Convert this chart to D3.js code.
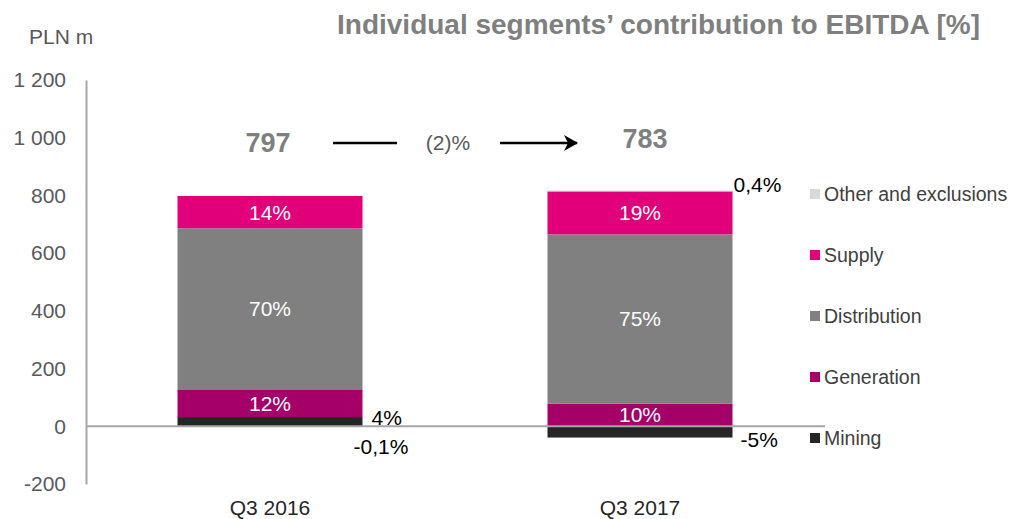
<!DOCTYPE html>
<html>
<head>
<meta charset="utf-8">
<script src="https://cdn.jsdelivr.net/npm/d3@7"></script>
<style>
  body { margin: 0; background: #fff; }
  text { font-family: "Liberation Sans", Arial, sans-serif; }
</style>
</head>
<body>
<div id="chart"></div>
<script>
(function () {

    // segment EBITDA, PLN m
    var categories = ['Q3 2016', 'Q3 2017'];
    var segments = ['Mining', 'Generation', 'Distribution', 'Supply', 'Other and exclusions'];

    var mining = [32, -39];
    var generation = [96, 78];
    var distribution = [558, 587];
    var supply = [112, 149];
    var other = [-1, 3];

    // share labels as printed on the chart
    var miningLabels = ['4%', '-5%'];
    var generationLabels = ['12%', '10%'];
    var distributionLabels = ['70%', '75%'];
    var supplyLabels = ['14%', '19%'];
    var otherLabels = ['-0,1%', '0,4%'];

    var totals = [797, 783];
    var changeLabel = '(2)%';

    var yTicks = [-200, 0, 200, 400, 600, 800, 1000, 1200];

    var colours = {
        'Mining': '#262626',
        'Generation': '#a50067',
        'Distribution': '#808080',
        'Supply': '#e2007a',
        'Other and exclusions': '#d9d9d9'
    };

    var width = 1010, height = 519;

    var svg = d3.select('#chart')
        .append('svg')
        .attr('width', width)
        .attr('height', height);

    var defs = svg.append('defs');
    defs.append('marker')
        .attr('id', 'arrow')
        .attr('viewBox', '0 0 14 16')
        .attr('refX', 13)
        .attr('refY', 8)
        .attr('markerWidth', 14)
        .attr('markerHeight', 16)
        .attr('markerUnits', 'userSpaceOnUse')
        .attr('orient', 'auto')
        .append('path')
        .attr('d', 'M0,0 L14,8 L0,16 L4,8 Z')
        .attr('fill', '#000');

    // build rows for stacking
    var rows = categories.map(function (c, i) {
        return {
            cat: c,
            'Mining': mining[i],
            'Generation': generation[i],
            'Distribution': distribution[i],
            'Supply': supply[i],
            'Other and exclusions': other[i]
        };
    });

    var labels = {
        'Mining': miningLabels,
        'Generation': generationLabels,
        'Distribution': distributionLabels,
        'Supply': supplyLabels,
        'Other and exclusions': otherLabels
    };

    var stack = d3.stack()
        .keys(segments)
        .offset(d3.stackOffsetDiverging);

    var series = stack(rows);

    var xScale = d3.scaleBand()
        .domain(categories)
        .range([85, 825])
        .paddingInner(0.5)
        .paddingOuter(0.25);

    var yScale = d3.scaleLinear()
        .domain([-200, 1200])
        .range([484, 80]);

    var fmt = function (d) {
        return d3.format(',')(d).replace(/,/g, ' ').replace('\u2212', '-');
    };

    // y axis
    var yAxis = svg.append('g')
        .attr('class', 'y axis')
        .attr('transform', 'translate(86,0)')
        .call(d3.axisLeft(yScale).tickValues(yTicks).tickFormat(fmt).tickSize(0).tickPadding(20));

    yAxis.select('.domain')
        .attr('stroke', '#a6a6a6')
        .attr('stroke-width', 2);

    yAxis.selectAll('text')
        .attr('fill', '#595959')
        .style('font-family', '"Liberation Sans", Arial, sans-serif')
        .style('font-size', '21px');

    // bars
    var groups = svg.selectAll('.series')
        .data(series)
        .enter()
        .append('g')
        .attr('class', 'series')
        .attr('fill', function (d) { return colours[d.key]; });

    groups.selectAll('rect')
        .data(function (d) { return d; })
        .enter()
        .append('rect')
        .attr('x', function (d) { return xScale(d.data.cat); })
        .attr('width', xScale.bandwidth())
        .attr('y', function (d) { return yScale(Math.max(d[0], d[1])); })
        .attr('height', function (d) { return Math.abs(yScale(d[0]) - yScale(d[1])); });

    // zero line
    svg.append('line')
        .attr('x1', 86)
        .attr('x2', 825)
        .attr('y1', yScale(0))
        .attr('y2', yScale(0))
        .attr('stroke', '#a6a6a6')
        .attr('stroke-width', 2);

    // labels inside segments
    ['Generation', 'Distribution', 'Supply'].forEach(function (key) {
        var s = series.find(function (d) { return d.key == key; });
        s.forEach(function (d, i) {
            svg.append('text')
                .attr('x', xScale(d.data.cat) + xScale.bandwidth() / 2)
                .attr('y', yScale((d[0] + d[1]) / 2))
                .attr('dy', '0.35em')
                .attr('text-anchor', 'middle')
                .attr('fill', '#fff')
                .style('font-size', '21px')
                .text(labels[key][i]);
        });
    });

    // labels outside bars (mining and other)
    var right = function (c) { return xScale(c) + xScale.bandwidth(); };

    var miningS = series.find(function (d) { return d.key == 'Mining'; });
    var otherS = series.find(function (d) { return d.key == 'Other and exclusions'; });

    miningS.forEach(function (d, i) {
        var top = yScale(Math.max(d[0], d[1]));
        var bot = yScale(Math.min(d[0], d[1]));
        svg.append('text')
            .attr('x', right(d.data.cat) + (i == 0 ? 9 : 8))
            .attr('y', i == 0 ? (top + bot) / 2 - 4 : bot + 2)
            .attr('dy', '0.35em')
            .attr('fill', '#000')
            .style('font-size', '21px')
            .text(miningLabels[i]);
    });

    otherS.forEach(function (d, i) {
        var top = yScale(Math.max(d[0], d[1]));
        svg.append('text')
            .attr('x', right(d.data.cat) + (i == 0 ? -9 : 1))
            .attr('y', i == 0 ? top + 20 : top - 6)
            .attr('dy', '0.35em')
            .attr('fill', '#000')
            .style('font-size', '21px')
            .text(otherLabels[i]);
    });

    // x labels
    svg.selectAll('.xLabel')
        .data(categories)
        .enter()
        .append('text')
        .attr('class', 'xLabel')
        .attr('x', function (d) { return xScale(d) + xScale.bandwidth() / 2; })
        .attr('y', 508)
        .attr('dy', '0.35em')
        .attr('text-anchor', 'middle')
        .attr('fill', '#262626')
        .style('font-size', '21px')
        .text(function (d) { return d; });

    // totals and change arrow
    svg.selectAll('.total')
        .data(totals)
        .enter()
        .append('text')
        .attr('class', 'total')
        .attr('x', function (d, i) { return xScale(categories[i]) + xScale.bandwidth() / 2 - (i == 0 ? 2 : -5); })
        .attr('y', function (d, i) { return i == 0 ? 143 : 139; })
        .attr('dy', '0.35em')
        .attr('text-anchor', 'middle')
        .attr('fill', '#7f7f7f')
        .style('font-size', '27px')
        .style('font-weight', 'bold')
        .text(function (d) { return d; });

    svg.append('line')
        .attr('x1', 333).attr('x2', 397)
        .attr('y1', 143).attr('y2', 143)
        .attr('stroke', '#000')
        .attr('stroke-width', 2.5);

    svg.append('line')
        .attr('x1', 500).attr('x2', 577)
        .attr('y1', 143).attr('y2', 143)
        .attr('stroke', '#000')
        .attr('stroke-width', 2.5)
        .attr('marker-end', 'url(#arrow)');

    svg.append('text')
        .attr('x', 448)
        .attr('y', 143)
        .attr('dy', '0.35em')
        .attr('text-anchor', 'middle')
        .attr('fill', '#595959')
        .style('font-size', '21px')
        .text(changeLabel);

    // legend, top to bottom in reverse stacking order
    var legend = svg.selectAll('.legendItem')
        .data(segments.slice().reverse())
        .enter()
        .append('g')
        .attr('class', 'legendItem')
        .attr('transform', function (d, i) { return 'translate(810,' + (194 + i * 61) + ')'; });

    legend.append('rect')
        .attr('x', 0)
        .attr('y', -5)
        .attr('width', 10)
        .attr('height', 10)
        .attr('fill', function (d) { return colours[d]; });

    legend.append('text')
        .attr('x', 14)
        .attr('y', 0)
        .attr('dy', '0.35em')
        .attr('fill', '#404040')
        .style('font-size', '19.5px')
        .text(function (d) { return d; });

    // titles
    svg.append('text')
        .attr('x', 29)
        .attr('y', 44)
        .attr('fill', '#595959')
        .style('font-size', '21px')
        .text('PLN m');

    svg.append('text')
        .attr('x', 980)
        .attr('y', 34)
        .attr('text-anchor', 'end')
        .attr('fill', '#7f7f7f')
        .style('font-size', '28px')
        .style('font-weight', 'bold')
        .text('Individual segments\u2019 contribution to EBITDA [%]');

})();
</script>
</body>
</html>
